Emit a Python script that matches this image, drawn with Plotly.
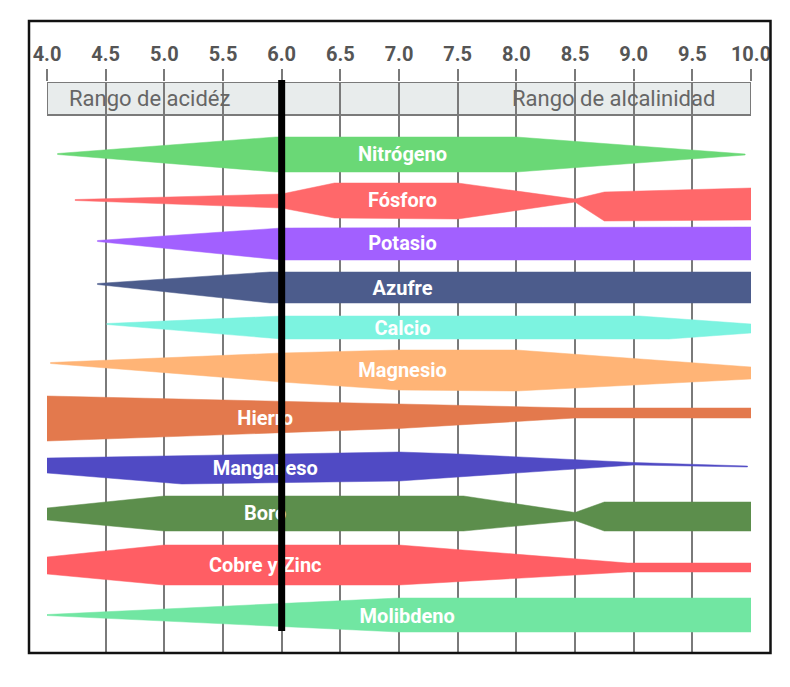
import plotly.graph_objects as go

# ---------------- data ----------------
NUTRIENTS = ["Nitrógeno", "Fósforo", "Potasio", "Azufre", "Calcio", "Magnesio",
             "Hierro", "Manganeso", "Boro", "Cobre y Zinc", "Molibdeno"]

TICK_VALUES = [4.0, 4.5, 5.0, 5.5, 6.0, 6.5, 7.0, 7.5, 8.0, 8.5, 9.0, 9.5, 10.0]
TICK_LABELS = ["4.0", "4.5", "5.0", "5.5", "6.0", "6.5", "7.0", "7.5", "8.0", "8.5", "9.0", "9.5", "10.0"]

# availability bands: pH knots, upper edge, lower edge (vertical position units)
NITROGENO_PH = [4.09, 5.95, 8.0, 9.95]
NITROGENO_TOP = [153.5, 137, 137, 154]
NITROGENO_BOT = [154.5, 172, 172, 155]

FOSFORO_PH = [4.24, 6.0, 6.45, 7.5, 8.5, 8.75, 10.0]
FOSFORO_TOP = [199.5, 194, 183, 183, 199, 192, 188]
FOSFORO_BOT = [200.5, 208, 218, 219, 202, 221, 220]

POTASIO_PH = [4.43, 6.0, 10.0]
POTASIO_TOP = [240.5, 228, 227]
POTASIO_BOT = [241.5, 260, 260]

AZUFRE_PH = [4.43, 5.9, 10.0]
AZUFRE_TOP = [283.5, 272, 272]
AZUFRE_BOT = [284.5, 303, 303]

CALCIO_PH = [4.51, 6.0, 9.05, 9.3, 10.0]
CALCIO_TOP = [323.5, 316, 316, 318, 324]
CALCIO_BOT = [324.5, 339, 339, 339, 333]

MAGNESIO_PH = [4.03, 6.0, 7.0, 8.0, 10.0]
MAGNESIO_TOP = [362.5, 353, 350, 350, 367]
MAGNESIO_BOT = [363.5, 382, 390, 391, 379]

HIERRO_PH = [4.0, 7.0, 8.5, 10.0]
HIERRO_TOP = [396, 404, 408, 408]
HIERRO_BOT = [441, 428.5, 418, 418]

MANGANESO_PH = [4.0, 5.15, 7.0, 7.5, 9.0, 9.97]
MANGANESO_TOP = [458, 455.5, 452, 454, 462.5, 466]
MANGANESO_BOT = [473, 484, 481, 477, 465, 467]

BORO_PH = [4.0, 5.0, 7.55, 8.5, 8.75, 10.0]
BORO_TOP = [508, 496, 496, 512.5, 502, 502]
BORO_BOT = [520, 531, 531, 520.5, 531, 531]

COBRE_ZINC_PH = [4.0, 5.0, 7.0, 8.95, 10.0]
COBRE_ZINC_TOP = [557, 545, 545, 563, 563]
COBRE_ZINC_BOT = [574, 585, 585, 572, 572]

MOLIBDENO_PH = [4.0, 7.0, 10.0]
MOLIBDENO_TOP = [614.5, 598, 598]
MOLIBDENO_BOT = [615.5, 632, 632]

# ---------------- styling / layout ----------------
COLORS = ["#6ad876", "#ff686a", "#a260ff", "#4c5c8c", "#7cf3e0", "#ffb476",
          "#e3794d", "#504ac4", "#5c8e4c", "#ff5e64", "#71e6a2"]
LABEL_X = [7.03, 7.03, 7.03, 7.03, 7.03, 7.03, 5.86, 5.86, 5.86, 5.86, 7.07]
LABEL_Y = [155.5, 201.5, 244.5, 289.5, 329.5, 371.5, 419.5, 469.5, 514.5, 566.5, 617.5]

BANDS = [
    (NITROGENO_PH, NITROGENO_TOP, NITROGENO_BOT),
    (FOSFORO_PH, FOSFORO_TOP, FOSFORO_BOT),
    (POTASIO_PH, POTASIO_TOP, POTASIO_BOT),
    (AZUFRE_PH, AZUFRE_TOP, AZUFRE_BOT),
    (CALCIO_PH, CALCIO_TOP, CALCIO_BOT),
    (MAGNESIO_PH, MAGNESIO_TOP, MAGNESIO_BOT),
    (HIERRO_PH, HIERRO_TOP, HIERRO_BOT),
    (MANGANESO_PH, MANGANESO_TOP, MANGANESO_BOT),
    (BORO_PH, BORO_TOP, BORO_BOT),
    (COBRE_ZINC_PH, COBRE_ZINC_TOP, COBRE_ZINC_BOT),
    (MOLIBDENO_PH, MOLIBDENO_TOP, MOLIBDENO_BOT),
]

FONT = "Roboto, 'Open Sans', Arial, sans-serif"

fig = go.Figure()

for name, (ph, top, bot), color in zip(NUTRIENTS, BANDS, COLORS):
    xs = list(ph) + list(reversed(ph)) + [ph[0]]
    ys = list(top) + list(reversed(bot)) + [top[0]]
    fig.add_trace(go.Scatter(
        x=xs, y=ys, mode="lines", fill="toself", fillcolor=color,
        line=dict(width=0.5, color=color), name=name, hoverinfo="name",
        showlegend=False,
    ))

fig.add_trace(go.Scatter(
    x=LABEL_X, y=LABEL_Y, mode="text", text=NUTRIENTS,
    textposition="middle center",
    textfont=dict(family=FONT, size=20, color="#ffffff", weight="bold"),
    hoverinfo="skip", showlegend=False,
))

W, H = 790, 687
ML, MR, MT, MB = 47, 39, 82, 34
PW = W - ML - MR
PH_ = H - MT - MB


def px_to_paper_x(px):
    return (px - ML) / PW


def px_to_paper_y(py):
    return (H - MB - py) / PH_


shapes = [
    # header band
    dict(type="rect", xref="x", yref="y", x0=4.0, x1=10.0, y0=82, y1=115,
         fillcolor="#e8ecec", line=dict(color="#7a7a7a", width=2), layer="below"),
    # pH 6.0 marker
    dict(type="line", xref="x", yref="paper", x0=6.0, x1=6.0,
         y0=px_to_paper_y(631), y1=px_to_paper_y(80),
         line=dict(color="#000000", width=7), layer="above"),
    # outer frame
    dict(type="rect", xref="paper", yref="paper",
         x0=px_to_paper_x(29), x1=px_to_paper_x(770.5),
         y0=px_to_paper_y(653), y1=px_to_paper_y(21),
         line=dict(color="#111111", width=2.5), fillcolor="rgba(0,0,0,0)", layer="above"),
]

annotations = [
    dict(text="Rango de acidéz", xref="x", yref="y", x=4.17, y=98.5,
         xanchor="left", yanchor="middle", showarrow=False,
         font=dict(family=FONT, size=22, color="#666666")),
    dict(text="Rango de alcalinidad", xref="x", yref="y", x=9.71, y=98.5,
         xanchor="right", yanchor="middle", showarrow=False,
         font=dict(family=FONT, size=22, color="#666666")),
]

fig.update_layout(
    width=W, height=H,
    margin=dict(l=ML, r=MR, t=MT, b=MB, pad=0),
    paper_bgcolor="white", plot_bgcolor="white",
    shapes=shapes, annotations=annotations,
    xaxis=dict(
        range=[4.0, 10.0], side="top", tickmode="array",
        tickvals=TICK_VALUES, ticktext=TICK_LABELS,
        ticks="outside", ticklen=12, tickwidth=2, tickcolor="#7a7a7a",
        showgrid=True, gridcolor="#7a7a7a", gridwidth=2,
        zeroline=False, showline=False, fixedrange=True,
        tickfont=dict(family=FONT, size=20, color="#555555", weight="bold"),
        ticklabelstandoff=0,
    ),
    yaxis=dict(range=[H - MB, MT], autorange=False, visible=False,
               showgrid=False, zeroline=False, fixedrange=True),
    showlegend=False,
)

fig.write_html("out.html")
